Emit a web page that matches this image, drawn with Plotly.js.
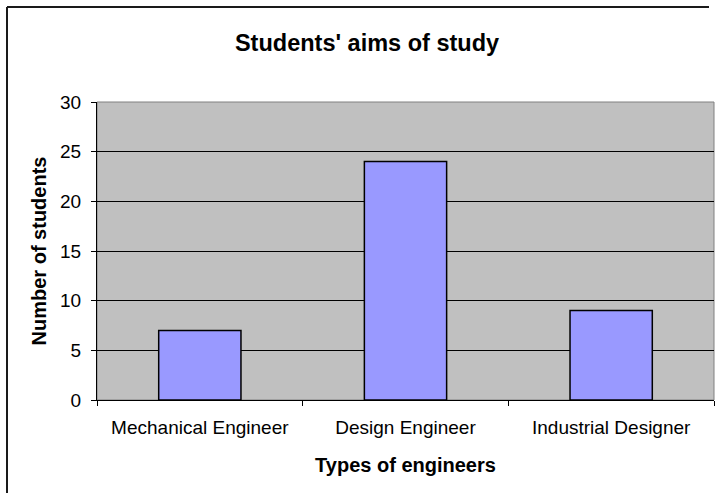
<!DOCTYPE html>
<html>
<head>
<meta charset="utf-8">
<script src="https://cdn.plot.ly/plotly-3.0.1.min.js"></script>
<style>html,body{margin:0;padding:0;background:#fff;}#chart{width:718px;height:493px;}</style>
</head>
<body>
<div id="chart"></div>
<script>
var categories = ["Mechanical Engineer", "Design Engineer", "Industrial Designer"];
var students = [7, 24, 9];
var yTicks = [0, 5, 10, 15, 20, 25, 30];

var font = "Liberation Sans, Arial, sans-serif";
var W = 718, H = 493, L = 97, R = 4, T = 102, B = 93;
var pw = W - L - R, ph = H - T - B;
function px2x(p) { return (p - L) / pw; }
function py2y(p) { return 1 - (p - T) / ph; }

var data = [{
  type: "bar",
  x: categories,
  y: students,
  marker: { color: "#9999FF", line: { color: "#000000", width: 1.5 } },
  width: 0.4,
  hoverinfo: "x+y"
}];

var layout = {
  width: W, height: H,
  margin: { l: L, r: R, t: T, b: B, pad: 0 },
  paper_bgcolor: "#ffffff",
  plot_bgcolor: "#C0C0C0",
  font: { family: font, size: 19, color: "#000" },
  showlegend: false,
  title: {
    text: "<b>Students' aims of study</b>",
    font: { family: font, size: 23.5, color: "#000" },
    x: (367 / W), xanchor: "center", xref: "container",
    y: 1 - 43 / H, yanchor: "middle", yref: "container"
  },
  xaxis: {
    type: "category",
    showline: true, linecolor: "#000", linewidth: 1,
    ticks: "outside", tickson: "boundaries", ticklen: 5, tickcolor: "#000",
    ticklabelstandoff: 10,
    tickfont: { family: font, size: 19, color: "#000" },
    showgrid: false, zeroline: false,
    title: { text: "<b>Types of engineers</b>", font: { family: font, size: 20, color: "#000" }, standoff: 21 }
  },
  yaxis: {
    range: [0, 30],
    tickvals: yTicks,
    showline: true, linecolor: "#000", linewidth: 1,
    ticks: "outside", ticklen: 5, tickcolor: "#000",
    ticklabelstandoff: 6,
    tickfont: { family: font, size: 19, color: "#000" },
    showgrid: true, gridcolor: "#000", gridwidth: 1,
    zeroline: false,
    title: { text: "<b>Number of students</b>", font: { family: font, size: 20, color: "#000" }, standoff: 8 }
  },
  shapes: [
    { type: "rect", xref: "paper", yref: "paper", x0: 0, x1: 1, y0: 0, y1: 1,
      line: { color: "#808080", width: 1 }, fillcolor: "rgba(0,0,0,0)", layer: "below" },
    { type: "line", xref: "paper", yref: "paper", x0: px2x(7), x1: px2x(7), y0: py2y(7), y1: py2y(500),
      line: { color: "#1a1a1a", width: 2 } },
    { type: "line", xref: "paper", yref: "paper", x0: px2x(7), x1: px2x(709), y0: py2y(7), y1: py2y(7),
      line: { color: "#1a1a1a", width: 2 } }
  ]
};

Plotly.newPlot("chart", data, layout, { displayModeBar: false, staticPlot: true });
</script>
</body>
</html>
